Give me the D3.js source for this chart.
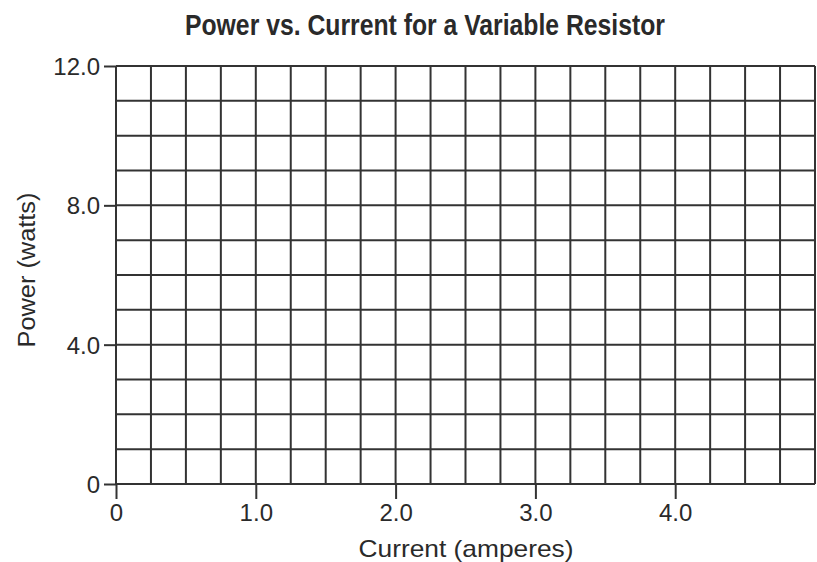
<!DOCTYPE html>
<html>
<head>
<meta charset="utf-8">
<script src="https://cdn.jsdelivr.net/npm/d3@7"></script>
<style>
  html, body { margin: 0; padding: 0; background: #fff; }
  svg { display: block; }
  text { font-family: "Liberation Sans", Arial, Helvetica, sans-serif; fill: #2a2a2a; }
</style>
</head>
<body>
<svg id="chart" width="817" height="562"></svg>
<script>
// ---- data ----
const title = "Power vs. Current for a Variable Resistor";
const xLabel = "Current (amperes)";
const yLabel = "Power (watts)";
const xDomain = [0, 5];
const yDomain = [0, 12];
const xTickValues = [0, 1, 2, 3, 4];
const xTickLabels = ["0", "1.0", "2.0", "3.0", "4.0"];
const yTickValues = [0, 4, 8, 12];
const yTickLabels = ["0", "4.0", "8.0", "12.0"];
const xGridStep = 0.25;
const yGridStep = 1;

// ---- layout ----
const svg = d3.select("#chart");
const mLeft = 116, mRight = 815, mTop = 66, mBottom = 484;
const x = d3.scaleLinear().domain(xDomain).range([mLeft, mRight]);
const y = d3.scaleLinear().domain(yDomain).range([mBottom, mTop]);

const lineColor = "#333";

const xGrid = d3.range(xDomain[0], xDomain[1] + 1e-9, xGridStep);
const yGrid = d3.range(yDomain[0], yDomain[1] + 1e-9, yGridStep);

const g = svg.append("g");
g.selectAll("line.v").data(xGrid).join("line")
  .attr("class", "v")
  .attr("x1", d => x(d)).attr("x2", d => x(d))
  .attr("y1", y(yDomain[0])).attr("y2", y(yDomain[1]))
  .attr("stroke", lineColor).attr("stroke-width", 2);
g.selectAll("line.h").data(yGrid).join("line")
  .attr("class", "h")
  .attr("y1", d => y(d)).attr("y2", d => y(d))
  .attr("x1", x(xDomain[0])).attr("x2", x(xDomain[1]))
  .attr("stroke", lineColor).attr("stroke-width", 2);

// axes
const xAxis = d3.axisBottom(x).tickValues(xTickValues)
  .tickFormat((d, i) => xTickLabels[i]).tickSize(15).tickPadding(5);
const yAxis = d3.axisLeft(y).tickValues(yTickValues)
  .tickFormat((d, i) => yTickLabels[i]).tickSize(12).tickPadding(4);

const gx = svg.append("g").attr("transform", `translate(0,${mBottom})`).call(xAxis);
const gy = svg.append("g").attr("transform", `translate(${mLeft},0)`).call(yAxis);
[gx, gy].forEach(a => {
  a.select(".domain").remove();
  a.selectAll(".tick line").attr("stroke", lineColor).attr("stroke-width", 2);
  a.selectAll(".tick text").attr("font-size", 24).attr("fill", "#2a2a2a")
    .attr("font-family", "'Liberation Sans', Arial, sans-serif");
});
gy.selectAll(".tick text").attr("dy", "0.36em");

// titles
svg.append("text")
  .attr("x", 425).attr("y", 35)
  .attr("text-anchor", "middle")
  .attr("font-size", 29).attr("font-weight", "bold")
  .attr("textLength", 480).attr("lengthAdjust", "spacingAndGlyphs")
  .attr("fill", "#222")
  .text(title);

svg.append("text")
  .attr("x", 466).attr("y", 557)
  .attr("text-anchor", "middle")
  .attr("font-size", 24)
  .attr("textLength", 215).attr("lengthAdjust", "spacingAndGlyphs")
  .text(xLabel);

svg.append("text")
  .attr("transform", `translate(35,270) rotate(-90)`)
  .attr("text-anchor", "middle")
  .attr("font-size", 23)
  .attr("textLength", 155).attr("lengthAdjust", "spacingAndGlyphs")
  .text(yLabel);
</script>
</body>
</html>
